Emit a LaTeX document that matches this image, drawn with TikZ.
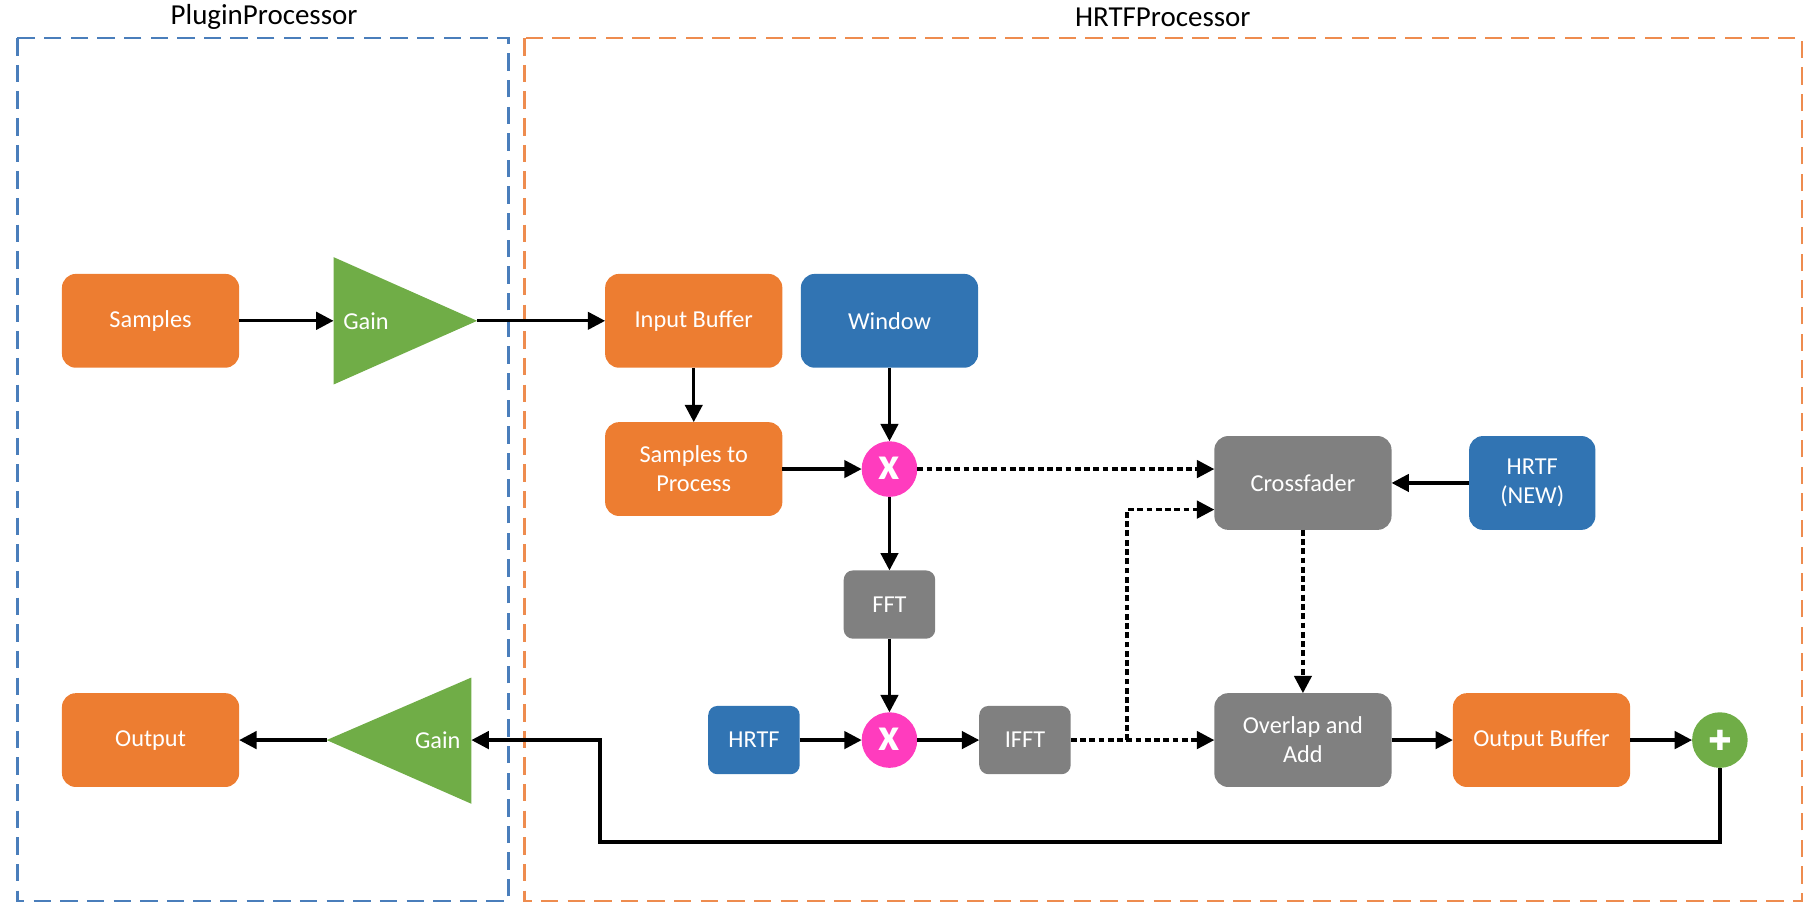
\documentclass[tikz,border=0pt]{standalone}
\usepackage{fontspec}
\setmainfont{Carlito}
\newfontfamily\symfont{DejaVu Sans}
\usetikzlibrary{arrows.meta,calc}
\definecolor{borange}{HTML}{ED7D31}
\definecolor{bblue}{HTML}{3174B3}
\definecolor{bgray}{HTML}{808080}
\definecolor{bgreen}{HTML}{70AD47}
\definecolor{bpink}{HTML}{FF3CBE}
\definecolor{dashblue}{HTML}{4A7EBB}
\definecolor{dashorange}{HTML}{EE8C4F}
\begin{document}
\begin{tikzpicture}[x=1pt,y=-1pt,
  box/.style={rounded corners=12pt, inner sep=0pt, outer sep=0pt, text=white,
    font=\fontsize{21}{25}\selectfont, align=center, minimum width=153pt, minimum height=81pt},
  sbox/.style={box, rounded corners=8pt, minimum width=79pt, minimum height=59pt},
  opbox/.style={circle, inner sep=0pt, outer sep=0pt, minimum size=48pt, text=white},
  arr/.style={line width=2.9pt, -{Triangle[length=15pt,width=15pt]}},
  darr/.style={arr, dash pattern=on 5pt off 3pt},
  frame/.style={line width=2pt, dash pattern=on 15pt off 8pt},
  title/.style={font=\fontsize{25}{30}\selectfont, text=black}
]
\path[use as bounding box] (0,0) rectangle (1568,789.3);

% frames
\draw[frame, dashblue] (15,33) rectangle (439,778);
\draw[frame, dashorange] (453,33) rectangle (1556,778);
\node[title] (tplug) at (228,15) {PluginProcessor};
\node[title] (thrtf) at (1004,15) {HRTFProcessor};

% nodes
\node[box, fill=borange] (samples) at (130,277) {Samples};
\node[box, fill=borange] (output) at (130,639) {Output};
\node[box, fill=borange] (inbuf) at (599,277) {Input Buffer};
\node[box, fill=bblue] (window) at (768,277) {Window};
\node[box, fill=borange] (stp) at (599,405) {Samples to\\Process};
\node[opbox, fill=bpink, font=\bfseries\fontsize{40}{40}\selectfont] (m1) at (768,405) {\raisebox{2pt}{x}};
\node[sbox, fill=bgray] (fft) at (768,522) {FFT};
\node[opbox, fill=bpink, font=\bfseries\fontsize{40}{40}\selectfont] (m2) at (768,639) {\raisebox{2pt}{x}};
\node[sbox, fill=bblue] (hrtf) at (651,639) {HRTF};
\node[sbox, fill=bgray] (ifft) at (885,639) {IFFT};
\node[box, fill=bgray] (cross) at (1125,417) {Crossfader};
\node[box, fill=bblue, minimum width=109pt] (hrtfnew) at (1323,417) {HRTF\\(NEW)};
\node[box, fill=bgray] (ola) at (1125,639) {Overlap and\\Add};
\node[box, fill=borange] (outbuf) at (1331,639) {Output Buffer};
\node[opbox, fill=bgreen, font=\symfont\fontsize{24}{24}\selectfont] (plus) at (1485,639) {✚};

% gain triangles
\coordinate (g1l) at (288,277);
\coordinate (g1a) at (412,277);
\fill[bgreen] (288,222) -- (g1a) -- (288,332) -- cycle;
\node[text=white, font=\fontsize{21}{25}\selectfont] (g1t) at (316,277) {Gain};
\coordinate (g2r) at (407,639);
\coordinate (g2a) at (282,639);
\fill[bgreen] (407,585) -- (g2a) -- (407,694) -- cycle;
\node[text=white, font=\fontsize{21}{25}\selectfont] (g2t) at (378,639) {Gain};

% connectors
\draw[arr] (samples.east) -- (g1l);
\draw[arr] (g1a) -- (inbuf.west);
\draw[arr] (inbuf.south) -- (stp.north);
\draw[arr] (window.south) -- (m1.north);
\draw[arr] (stp.east) -- (m1.west);
\draw[darr] (m1.east) -- (m1.east -| cross.west);
\draw[arr] (m1.south) -- (fft.north);
\draw[arr] (fft.south) -- (m2.north);
\draw[arr] (hrtf.east) -- (m2.west);
\draw[arr] (m2.east) -- (ifft.west);
\draw[darr] (ifft.east) -- (ola.west);
\coordinate (br) at (973,639);
\draw[darr] (br) |- ($(cross.west)+(0,23)$);
\draw[arr] (hrtfnew.west) -- (cross.east);
\draw[darr] (cross.south) -- (ola.north);
\draw[arr] (ola.east) -- (outbuf.west);
\draw[arr] (outbuf.east) -- (plus.west);
\coordinate (lpa) at (1485,727);
\coordinate (lpb) at (518,727);
\coordinate (lpc) at (518,639);
\draw[arr] (plus.south) -- (lpa) -- (lpb) -- (lpc) -- (g2r);
\draw[arr] (g2a) -- (output.east);
\end{tikzpicture}
\end{document}
